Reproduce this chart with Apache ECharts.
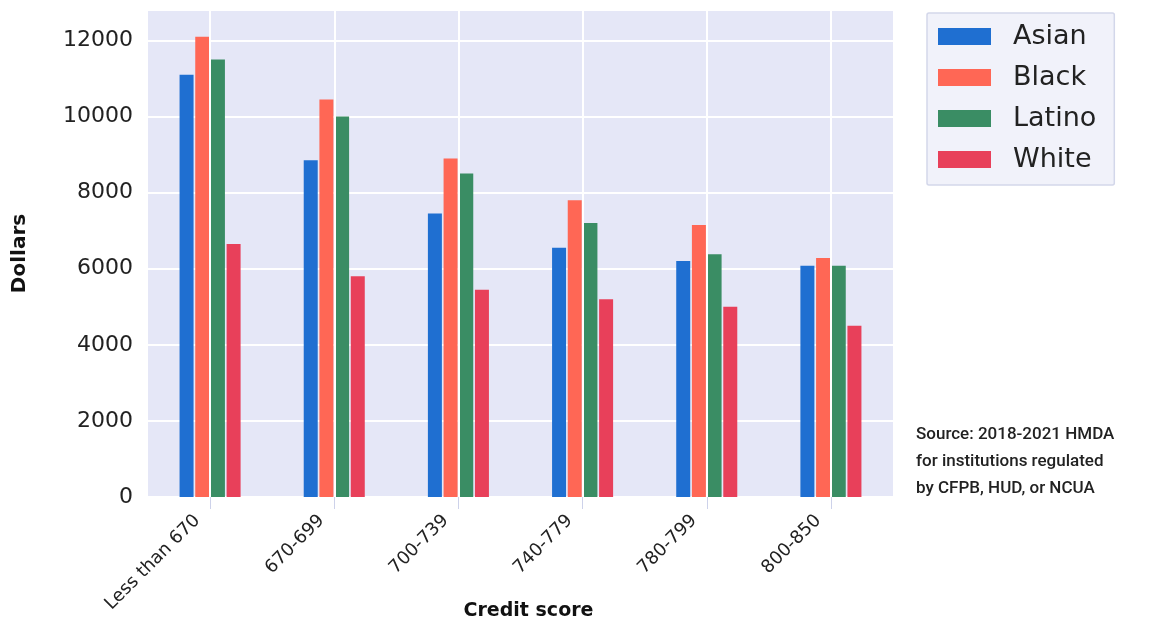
<!DOCTYPE html>
<html>
<head>
<meta charset="utf-8">
<script src="https://cdn.jsdelivr.net/npm/echarts@6/dist/echarts.min.js"></script>
<style>
  html, body { margin: 0; padding: 0; background: #ffffff; }
  #chart { width: 1150px; height: 619px; }
</style>
</head>
<body>
<div id="chart"></div>
<script>
// Median total loan costs by credit score band and borrower race/ethnicity
const categories = ['Less than 670', '670-699', '700-739', '740-779', '780-799', '800-850'];
const asian  = [11100, 8850, 7450, 6550, 6200, 6080];
const black  = [12100, 10450, 8900, 7800, 7150, 6280];
const latino = [11500, 10000, 8500, 7200, 6380, 6080];
const white  = [6650, 5800, 5450, 5200, 5000, 4500];
const seriesNames = ['Asian', 'Black', 'Latino', 'White'];
const yTicks = [0, 2000, 4000, 6000, 8000, 10000, 12000];
const sourceLines = ['Source: 2018-2021 HMDA', 'for institutions regulated', 'by CFPB, HUD, or NCUA'];

const colors = ['#1f6fd1', '#ff6755', '#3a8d64', '#e8405a'];
const values = [asian, black, latino, white];

const chart = echarts.init(document.getElementById('chart'), null, { renderer: 'canvas' });

// bar series, one per group
const barSeries = seriesNames.map((name, i) => ({
  name: name,
  type: 'bar',
  z: 3,
  data: values[i],
  barWidth: 14,
  barGap: '12%',
  itemStyle: { color: colors[i] }
}));

// white vertical grid lines through each category centre, kept behind the bars
const centreLines = {
  name: 'centre-lines',
  type: 'line',
  z: 1,
  data: [],
  silent: true,
  markLine: {
    silent: true,
    symbol: 'none',
    label: { show: false },
    lineStyle: { color: '#ffffff', width: 2, type: 'solid' },
    data: categories.map(c => ({ xAxis: c }))
  }
};

const option = {
  animation: false,
  backgroundColor: '#ffffff',
  color: colors,
  grid: {
    left: 148, right: 257, top: 10, bottom: 122,
    containLabel: false,
    outerBoundsMode: 'none',
    show: true, backgroundColor: '#e5e7f7', borderWidth: 0
  },
  legend: {
    data: seriesNames,
    orient: 'vertical',
    left: 927, top: 13,
    width: 183,
    padding: [10, 18, 12, 11],
    itemWidth: 53, itemHeight: 17,
    itemGap: 14,
    backgroundColor: '#f1f2fa',
    borderColor: '#d3d7ea', borderWidth: 1.5, borderRadius: 2,
    icon: 'rect',
    textStyle: { fontFamily: 'DejaVu Sans', fontSize: 27, color: '#222222', padding: [0, 0, 0, 17] }
  },
  xAxis: {
    type: 'category',
    data: categories,
    name: 'Credit score',
    nameLocation: 'middle',
    nameGap: 105,
    nameMoveOverlap: false,
    nameTextStyle: { fontFamily: 'DejaVu Sans', fontWeight: 'bold', fontSize: 19, color: '#111111', padding: [0, 0, 0, 16] },
    axisLine: { show: false },
    axisTick: { show: true, alignWithLabel: true, length: 12, lineStyle: { color: '#cdd2ea' } },
    axisLabel: {
      rotate: 45, margin: 8, padding: [0, 18, 0, 0],
      fontFamily: 'DejaVu Sans', fontSize: 18, color: '#222222'
    },
    splitLine: { show: false }
  },
  yAxis: {
    type: 'value',
    min: 0, max: 12800, interval: 2000,
    name: 'Dollars',
    nameLocation: 'middle',
    nameGap: 118,
    nameMoveOverlap: false,
    nameTextStyle: { fontFamily: 'DejaVu Sans', fontWeight: 'bold', fontSize: 20, color: '#111111' },
    axisLine: { show: false },
    axisTick: { show: false },
    axisLabel: {
      margin: 15, fontFamily: 'DejaVu Sans', fontSize: 22, color: '#222222',
      formatter: v => (yTicks.indexOf(v) >= 0 ? String(v) : '')
    },
    splitLine: { show: true, lineStyle: { color: '#ffffff', width: 2 } }
  },
  series: [centreLines].concat(barSeries),
  graphic: sourceLines.map((line, i) => ({
    type: 'text',
    left: 916,
    top: 426 + i * 27,
    style: { text: line, fontFamily: 'Roboto', fontWeight: 500, fontSize: 17, fill: '#222222' }
  }))
};

chart.setOption(option);
</script>
</body>
</html>
